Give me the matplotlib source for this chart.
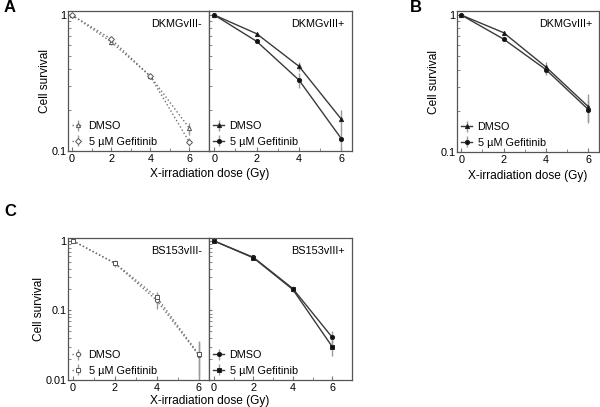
import matplotlib
matplotlib.use("Agg")
import matplotlib.pyplot as plt
from matplotlib.ticker import LogLocator, NullFormatter, FixedLocator, MultipleLocator

plt.rcParams['font.family'] = ['Liberation Sans', 'DejaVu Sans']

dose = [0, 2, 4, 6]

# panel A, DKMGvIII-
a_neg_dmso = [1.0, 0.636, 0.355, 0.147]
a_neg_dmso_err = [0, 0.03, 0.01, 0.015]
a_neg_gef = [1.0, 0.666, 0.355, 0.116]
a_neg_gef_err = [0, 0.02, 0.01, 0.008]
# panel A, DKMGvIII+
a_pos_dmso = [1.0, 0.728, 0.419, 0.171]
a_pos_dmso_err = [0, 0.015, 0.03, 0.028]
a_pos_gef = [1.0, 0.64, 0.332, 0.123]
a_pos_gef_err = [0, 0.015, 0.04, 0.022]
# panel B, DKMGvIII+
b_dmso = [1.0, 0.743, 0.417, 0.214]
b_dmso_err = [0, 0.02, 0.04, 0.05]
b_gef = [1.0, 0.667, 0.399, 0.204]
b_gef_err = [0, 0.015, 0.035, 0.035]
# panel C, BS153vIII-
c_neg_dmso = [1.0, 0.475, 0.14, 0.023]
c_neg_dmso_err = [0, 0.05, 0.035, 0.013]
c_neg_gef = [1.0, 0.48, 0.156, 0.0235]
c_neg_gef_err = [0, 0.04, 0.03, 0.012]
# panel C, BS153vIII+
c_pos_dmso = [1.0, 0.58, 0.206, 0.041]
c_pos_dmso_err = [0, 0.02, 0.015, 0.01]
c_pos_gef = [1.0, 0.57, 0.2, 0.030]
c_pos_gef_err = [0, 0.02, 0.015, 0.008]

W, H = 600, 407
fig = plt.figure(figsize=(6, 4.07), dpi=100)

SMALL = 7.8
LABEL = 8.6


def box(x0, x1, top, bottom):
    return [x0 / W, 1 - bottom / H, (x1 - x0) / W, (bottom - top) / H]


def panel(rect, xlim, ylim, yticks, ylabels, name, series, dotted):
    ax = fig.add_axes(rect)
    col = '#707070' if dotted else '#3a3a3a'
    for y, err, mk, fill, lab in series:
        ax.errorbar(dose, y, yerr=err, color=col, ls=':' if dotted else '-',
                    lw=1.0, marker=mk, ms=3.0, mfc=fill,
                    mec='#222222' if fill != 'white' else '#555555',
                    mew=0.7, ecolor='#999999', elinewidth=1.0, capsize=0, label=lab)
    ax.set_yscale('log')
    ax.set_xlim(*xlim)
    ax.set_ylim(*ylim)
    ax.yaxis.set_major_locator(FixedLocator(yticks))
    ax.yaxis.set_minor_locator(LogLocator(base=10, subs=range(2, 10)))
    ax.yaxis.set_minor_formatter(NullFormatter())
    if ylabels:
        ax.set_yticklabels(ylabels)
    else:
        ax.set_yticklabels([])
    ax.xaxis.set_major_locator(MultipleLocator(2))
    ax.xaxis.set_minor_locator(MultipleLocator(1))
    ax.tick_params(which='both', direction='in', labelsize=SMALL, pad=2, color='#777777')
    ax.tick_params(which='major', length=3)
    ax.tick_params(which='minor', length=2)
    ax.tick_params(axis='y', which='major', length=2, pad=1)
    for s in ax.spines.values():
        s.set_color('#555555')
        s.set_linewidth(0.9)
    ax.text(0.95, 0.91, name, transform=ax.transAxes, ha='right', va='center', fontsize=SMALL)
    ax.legend(loc='lower left', frameon=False, fontsize=SMALL, handlelength=1.0,
              handletextpad=0.5, borderaxespad=0.1, labelspacing=0.5,
              borderpad=0.3)
    return ax


# panel A
axa = panel(box(68, 209, 11, 151), (-0.2, 7.0), (0.1, 1.07), [0.1, 1], ['0.1', '1'],
            'DKMGvIII-',
            [(a_neg_dmso, a_neg_dmso_err, '^', 'white', 'DMSO'),
             (a_neg_gef, a_neg_gef_err, 'D', 'white', '5 µM Gefitinib')], True)
axa.set_ylabel('Cell survival', fontsize=LABEL, labelpad=0.5)
panel(box(209, 352, 11, 151), (-0.25, 6.5), (0.1, 1.07), [0.1, 1], None,
      'DKMGvIII+',
      [(a_pos_dmso, a_pos_dmso_err, '^', '#111111', 'DMSO'),
       (a_pos_gef, a_pos_gef_err, 'o', '#111111', '5 µM Gefitinib')], False)
fig.text(210 / W, 1 - 174 / H, 'X-irradiation dose (Gy)', ha='center', va='center', fontsize=LABEL)

# panel B
axb = panel(box(457, 599, 11, 152), (-0.2, 6.5), (0.1, 1.07), [0.1, 1], ['0.1', '1'],
            'DKMGvIII+',
            [(b_dmso, b_dmso_err, '^', '#111111', 'DMSO'),
             (b_gef, b_gef_err, 'o', '#111111', '5 µM Gefitinib')], False)
axb.set_ylabel('Cell survival', fontsize=LABEL, labelpad=0.5)
axb.set_xlabel('X-irradiation dose (Gy)', fontsize=LABEL, labelpad=4)

# panel C
axc = panel(box(68, 209, 238, 380), (-0.24, 6.5), (0.01, 1.1), [0.01, 0.1, 1], ['0.01', '0.1', '1'],
            'BS153vIII-',
            [(c_neg_dmso, c_neg_dmso_err, 'o', 'white', 'DMSO'),
             (c_neg_gef, c_neg_gef_err, 's', 'white', '5 µM Gefitinib')], True)
axc.set_ylabel('Cell survival', fontsize=LABEL, labelpad=0.5)
panel(box(209, 352, 238, 380), (-0.25, 7.0), (0.01, 1.1), [0.01, 0.1, 1], None,
      'BS153vIII+',
      [(c_pos_dmso, c_pos_dmso_err, 'o', '#111111', 'DMSO'),
       (c_pos_gef, c_pos_gef_err, 's', '#111111', '5 µM Gefitinib')], False)
fig.text(210 / W, 1 - 401 / H, 'X-irradiation dose (Gy)', ha='center', va='center', fontsize=LABEL)

for lab, x, y in [('A', 10, 8), ('B', 416, 8), ('C', 10, 211)]:
    fig.text(x / W, 1 - y / H, lab, fontsize=12, fontweight='bold', ha='center', va='center')

fig.savefig('out.png', dpi=100)
